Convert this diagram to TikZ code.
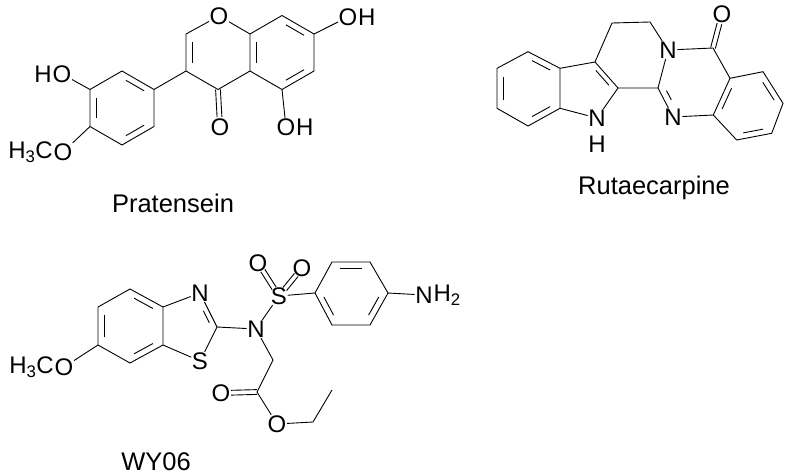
\documentclass[tikz,border=0pt]{standalone}
\usepackage{fontspec}
\setmainfont{Liberation Sans}
\usetikzlibrary{calc}

\tikzset{
  atomlbl/.style={inner sep=0.5pt, font=\fontsize{24pt}{28pt}\selectfont},
  caption/.style={inner sep=0pt, anchor=base, font=\fontsize{25.5pt}{28pt}\selectfont},
  bond/.style={line width=0.9pt}
}
% inner line of a ring double bond
\newcommand\innerbond[3]{\draw[bond] ($(#1)!.15!(#2)!.19!(#3)$) -- ($(#2)!.15!(#1)!.19!(#3)$);}
% exocyclic double bond: two parallel lines
\newcommand\twobond[4]{\draw[bond,shorten <=#3,shorten >=#4] ($(#1)!2.4pt!90:(#2)$) -- ($(#2)!2.4pt!-90:(#1)$);
  \draw[bond,shorten <=#3,shorten >=#4] ($(#1)!2.4pt!-90:(#2)$) -- ($(#2)!2.4pt!90:(#1)$);}

\begin{document}
\begin{tikzpicture}[x=1pt,y=-1pt]
	\useasboundingbox (0,0) rectangle (792,474);
	% Pratensein
	\coordinate (a1) at (122,71); \coordinate (a2) at (154,89.5); \coordinate (a3) at (154,126.5);
	\coordinate (a4) at (122,145); \coordinate (a5) at (90,126.5); \coordinate (a6) at (90,89.5);
	\coordinate (ca) at (122,108);
	\coordinate (c3) at (186,71); \coordinate (c2) at (186,34); \coordinate (c8a) at (250,34);
	\coordinate (c4a) at (250,71); \coordinate (c4) at (218,89.5); \coordinate (cc) at (218,52.5);
	\coordinate (c8) at (282,15.5); \coordinate (c7) at (314,34); \coordinate (c6) at (314,71);
	\coordinate (c5) at (282,89.5); \coordinate (cb) at (282,52.5);
	\node[atomlbl] (o1) at (219,16) {O};
	\node[atomlbl] (o4) at (220,127) {O};
	\node[atomlbl] (o5) at (286,127) {O};
	\node[atomlbl,anchor=west,inner sep=0pt] at (o5.east) {H};
	\node[atomlbl] (o7) at (348,17) {O};
	\node[atomlbl,anchor=west,inner sep=0pt] at (o7.east) {H};
	\node[atomlbl] (o3) at (62,74) {O};
	\node[atomlbl,anchor=east,inner sep=0pt] at (o3.west) {H};
	\node[atomlbl] (o4p) at (63,152) {O};
	\node[atomlbl,anchor=east,inner sep=0pt] at (o4p.west) {H\textsubscript{3}C};
	\draw[bond] (a1) -- (a2) -- (a3) -- (a4) -- (a5) -- (a6) -- cycle;
	\draw[bond] (a2) -- (c3) -- (c2) -- (o1) -- (c8a) -- (c4a) -- (c4) -- (c3);
	\draw[bond] (c8a) -- (c8) -- (c7) -- (c6) -- (c5) -- (c4a);
	\draw[bond] (a6) -- (o3) (a5) -- (o4p) (c5) -- (o5) (c7) -- (o7);
	\twobond{c4}{o4}{0pt}{10pt}
	\innerbond{a6}{a5}{ca} \innerbond{a1}{a2}{ca} \innerbond{a3}{a4}{ca}
	\innerbond{c2}{c3}{cc}
	\innerbond{c8a}{c4a}{cb} \innerbond{c8}{c7}{cb} \innerbond{c6}{c5}{cb}
	\node[caption] (pratensein) at (173,212) {Pratensein};
	% Rutaecarpine
	\coordinate (b1) at (528,51.7); \coordinate (b2) at (560,68.3); \coordinate (b3) at (560,108.3);
	\coordinate (b4) at (528,126); \coordinate (b5) at (497,108.3); \coordinate (b6) at (497,68.3);
	\coordinate (cb1) at (528.5,88);
	\coordinate (r3) at (595,62); \coordinate (r2) at (618,88); \coordinate (cp) at (585,90);
	\coordinate (h1) at (612,23); \coordinate (h2) at (650,22); \coordinate (r13) at (658,88);
	\coordinate (co) at (713,48); \coordinate (q4a) at (730,78.3); \coordinate (q5) at (763,71.7);
	\coordinate (q6) at (783,103.3); \coordinate (q7) at (771.7,133.3); \coordinate (q8) at (736.7,140);
	\coordinate (q8a) at (713.3,115); \coordinate (cq) at (693,83); \coordinate (cr) at (749,107);
	\node[atomlbl] (n1) at (597,118) {N};
	\node[atomlbl] (hn) at (597,144) {H};
	\node[atomlbl] (n2) at (668,50) {N};
	\node[atomlbl] (n3) at (673,117) {N};
	\node[atomlbl] (o9) at (722,14) {O};
	\draw[bond] (b1) -- (b2) -- (b3) -- (b4) -- (b5) -- (b6) -- cycle;
	\draw[bond] (b2) -- (r3) -- (r2) -- (n1) -- (b3);
	\draw[bond] (r3) -- (h1) -- (h2) -- (n2) -- (r13) -- (r2);
	\draw[bond] (r13) -- (n3) -- (q8a) -- (q4a) -- (co) -- (n2);
	\draw[bond] (q4a) -- (q5) -- (q6) -- (q7) -- (q8) -- (q8a);
	\twobond{co}{o9}{0pt}{10pt}
	\innerbond{b6}{b5}{cb1} \innerbond{b1}{b2}{cb1} \innerbond{b3}{b4}{cb1}
	\innerbond{r3}{r2}{cp}
	\draw[bond,shorten >=8pt] ($(r13)!.15!(n3)!.19!(cq)$) -- ($(n3)!.15!(r13)!.19!(cq)$);
	\innerbond{q4a}{q8a}{cr} \innerbond{q5}{q6}{cr} \innerbond{q7}{q8}{cr}
	\node[caption] (rutaecarpine) at (654,194) {Rutaecarpine};
	% WY06
	\coordinate (w1) at (130,289); \coordinate (w2) at (163,307); \coordinate (w3) at (163,345);
	\coordinate (w4) at (130,363); \coordinate (w5) at (98,345); \coordinate (w6) at (98,307);
	\coordinate (cw) at (130.5,326);
	\coordinate (t2) at (217,327); \coordinate (ct) at (188,327);
	\coordinate (p1) at (315,293); \coordinate (p2) at (332,262); \coordinate (p3) at (370,262);
	\coordinate (p4) at (388,293); \coordinate (p5) at (370,325); \coordinate (p6) at (332,325);
	\coordinate (cpp) at (351,293.5);
	\coordinate (m1) at (273,360); \coordinate (m2) at (257,392); \coordinate (e1) at (313,422);
	\coordinate (e2) at (332,390);
	\node[atomlbl] (nt) at (200,293) {N};
	\node[atomlbl] (st) at (200,361) {S};
	\node[atomlbl] (ns) at (256,329) {N};
	\node[atomlbl] (ss) at (279,296) {S};
	\node[atomlbl] (so1) at (258,263) {O};
	\node[atomlbl] (so2) at (302,268) {O};
	\node[atomlbl] (nh) at (424,295) {N};
	\node[atomlbl,anchor=west,inner sep=0pt] at (nh.east) {H\textsubscript{2}};
	\node[atomlbl] (om) at (64,367) {O};
	\node[atomlbl,anchor=east,inner sep=0pt] at (om.west) {H\textsubscript{3}C};
	\node[atomlbl] (oc) at (221,393) {O};
	\node[atomlbl] (oe) at (277,424) {O};
	\draw[bond] (w1) -- (w2) -- (w3) -- (w4) -- (w5) -- (w6) -- cycle;
	\draw[bond] (w5) -- (om) (w2) -- (nt) -- (t2) -- (st) -- (w3);
	\draw[bond] (t2) -- (ns) -- (ss) -- (p1) (ns) -- (m1) -- (m2) -- (oe) -- (e1) -- (e2);
	\draw[bond] (p1) -- (p2) -- (p3) -- (p4) -- (p5) -- (p6) -- cycle;
	\draw[bond] (p4) -- (nh);
	\twobond{ss}{so1}{9pt}{9pt}
	\twobond{ss}{so2}{9pt}{9pt}
	\twobond{m2}{oc}{0pt}{10pt}
	\innerbond{w6}{w5}{cw} \innerbond{w1}{w2}{cw} \innerbond{w3}{w4}{cw}
	\draw[bond,shorten <=8pt] ($(nt)!.15!(t2)!.19!(ct)$) -- ($(t2)!.15!(nt)!.19!(ct)$);
	\innerbond{p2}{p3}{cpp} \innerbond{p4}{p5}{cpp} \innerbond{p6}{p1}{cpp}
	\node[caption] (wy) at (156,470) {WY06};
\end{tikzpicture}
\end{document}
